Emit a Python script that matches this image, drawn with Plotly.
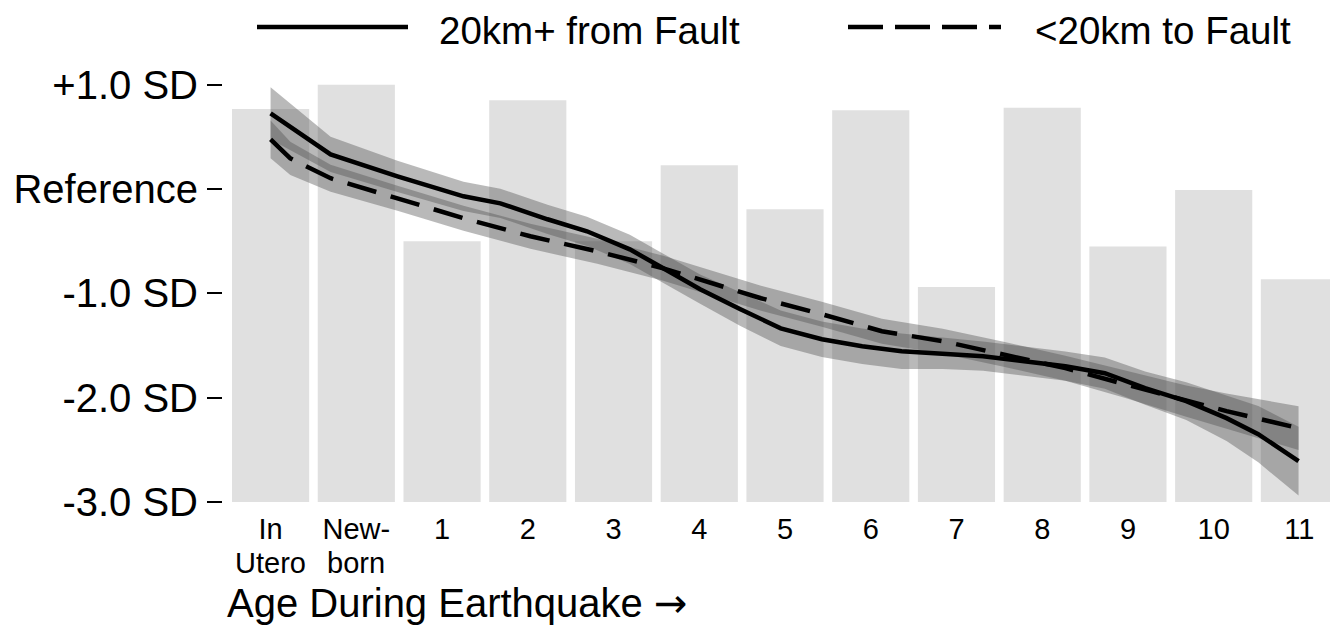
import plotly.graph_objects as go

# ---------------- data ----------------
age_labels_line1 = ["In", "New-", "1", "2", "3", "4", "5", "6", "7", "8", "9", "10", "11"]
age_labels_line2 = ["Utero", "born"]
age_positions = [0, 1, 2, 3, 4, 5, 6, 7, 8, 9, 10, 11, 12]
bar_tops = [0.766, 1.0, -0.50, 0.85, -0.50, 0.227, -0.194, 0.754, -0.94, 0.78, -0.55, -0.01, -0.865]
bar_base = -3.0

far_x = [0, 0.70, 1.48, 2.25, 2.68, 3.23, 3.69, 4.19, 4.58, 5.01, 5.48, 5.95, 6.43, 6.90,
         7.36, 7.84, 8.31, 8.79, 9.27, 9.73, 10.20, 10.68, 11.15, 11.52, 11.99]
far_y = [0.725, 0.332, 0.122, -0.07, -0.137, -0.29, -0.405, -0.578, -0.76, -0.96, -1.152,
         -1.335, -1.44, -1.507, -1.555, -1.574, -1.602, -1.65, -1.698, -1.765, -1.909,
         -2.033, -2.196, -2.35, -2.608]
far_hi = [0.975, 0.502, 0.272, 0.07, 0.003, -0.15, -0.265, -0.438, -0.62, -0.82, -0.99,
          -1.165, -1.27, -1.337, -1.385, -1.424, -1.462, -1.51, -1.558, -1.615, -1.749,
          -1.853, -1.976, -2.08, -2.278]
far_lo = [0.475, 0.162, -0.028, -0.21, -0.277, -0.43, -0.545, -0.718, -0.9, -1.1, -1.314,
          -1.505, -1.61, -1.677, -1.725, -1.724, -1.742, -1.79, -1.838, -1.915, -2.069,
          -2.213, -2.416, -2.62, -2.938]

near_x = [0, 0.23, 0.70, 1.48, 2.25, 3.03, 3.81, 4.58, 5.15, 5.72, 6.43, 7.13, 7.84, 8.55,
          9.27, 9.96, 10.68, 11.15, 11.99]
near_y = [0.476, 0.294, 0.103, -0.089, -0.28, -0.453, -0.597, -0.76, -0.903, -1.047, -1.2,
          -1.363, -1.459, -1.583, -1.717, -1.87, -2.033, -2.129, -2.292]
near_hi = [0.656, 0.454, 0.233, 0.031, -0.16, -0.333, -0.477, -0.64, -0.783, -0.927, -1.08,
           -1.243, -1.339, -1.463, -1.597, -1.74, -1.883, -1.959, -2.082]
near_lo = [0.296, 0.134, -0.027, -0.209, -0.40, -0.573, -0.717, -0.88, -1.023, -1.167, -1.32,
           -1.483, -1.579, -1.703, -1.837, -2.0, -2.183, -2.299, -2.502]

y_tick_vals = [-3, -2, -1, 0, 1]
y_tick_text = ["-3.0 SD", "-2.0 SD", "-1.0 SD", "Reference", "+1.0 SD"]

legend_labels = ["20km+ from Fault", "<20km to Fault"]
x_title = "Age During Earthquake <span style=\"font-family:'DejaVu Sans'\">\u2192</span>"

# ---------------- layout geometry ----------------
OFF = 8  # default page body margin
W, H = 1338 - OFF, 626 - OFF
ML, MR, MT, MB = 223 - OFF, 0, 68 - OFF, 124
PW, PH = W - ML - MR, H - MT - MB
FONT = "Liberation Sans, Arial, Helvetica, sans-serif"


def px(xp):
    return (xp - OFF - ML) / PW


def py(yp):
    return (H - MB - (yp - OFF)) / PH


BAND = "rgba(80,80,80,0.40)"

fig = go.Figure()

fig.add_trace(go.Bar(
    x=age_positions,
    y=[t - bar_base for t in bar_tops],
    base=bar_base,
    width=0.9,
    marker=dict(color="#e0e0e0", line=dict(width=0)),
    showlegend=False,
    hoverinfo="skip",
))

for xs, lo, hi in [(far_x, far_lo, far_hi), (near_x, near_lo, near_hi)]:
    fig.add_trace(go.Scatter(
        x=list(xs) + list(xs)[::-1],
        y=list(hi) + list(lo)[::-1],
        fill="toself",
        fillcolor=BAND,
        line=dict(width=0),
        mode="lines",
        showlegend=False,
        hoverinfo="skip",
    ))

fig.add_trace(go.Scatter(
    x=far_x, y=far_y, mode="lines",
    line=dict(color="black", width=4.5),
    name=legend_labels[0], showlegend=False,
))
fig.add_trace(go.Scatter(
    x=near_x, y=near_y, mode="lines",
    line=dict(color="black", width=4.5, dash="30px,15px"),
    name=legend_labels[1], showlegend=False,
))

# custom legend
shapes = [
    dict(type="line", xref="paper", yref="paper",
         x0=px(257), x1=px(408), y0=py(27), y1=py(27),
         line=dict(color="black", width=4.5)),
    dict(type="line", xref="paper", yref="paper",
         x0=px(848), x1=px(1001), y0=py(27), y1=py(27),
         line=dict(color="black", width=4.5, dash="35px,12px")),
]

annotations = [
    dict(text=legend_labels[0], xref="paper", yref="paper", x=px(437), y=py(30),
         xanchor="left", yanchor="middle", showarrow=False,
         font=dict(family=FONT, size=38.5, color="black")),
    dict(text=legend_labels[1], xref="paper", yref="paper", x=px(1033), y=py(30),
         xanchor="left", yanchor="middle", showarrow=False,
         font=dict(family=FONT, size=38.5, color="black")),
    dict(text=x_title, xref="paper", yref="paper", x=px(225), y=py(603),
         xanchor="left", yanchor="middle", showarrow=False,
         font=dict(family=FONT, size=40, color="black")),
]
for i, lab in enumerate(age_labels_line2):
    annotations.append(dict(text=lab, xref="x", yref="paper", x=age_positions[i], y=py(563),
                            xanchor="center", yanchor="middle", showarrow=False,
                            font=dict(family=FONT, size=29, color="black")))

fig.update_layout(
    width=W, height=H,
    margin=dict(l=ML, r=MR, t=MT, b=MB),
    plot_bgcolor="white", paper_bgcolor="white",
    bargap=0.1,
    shapes=shapes,
    annotations=annotations,
    showlegend=False,
    xaxis=dict(
        range=[-0.555, 12.45],
        tickmode="array", tickvals=age_positions, ticktext=age_labels_line1,
        showgrid=False, zeroline=False, showline=False, ticks="",
        tickfont=dict(family=FONT, size=29, color="black"),
        ticklabelstandoff=7,
    ),
    yaxis=dict(
        range=[-3, 1.16],
        tickmode="array", tickvals=y_tick_vals, ticktext=y_tick_text,
        showgrid=False, zeroline=False, showline=False,
        ticks="outside", ticklen=15, tickwidth=2, tickcolor="black",
        tickfont=dict(family=FONT, size=40, color="black"),
        ticklabelstandoff=1,
    ),
)

fig.write_html("out.html")
